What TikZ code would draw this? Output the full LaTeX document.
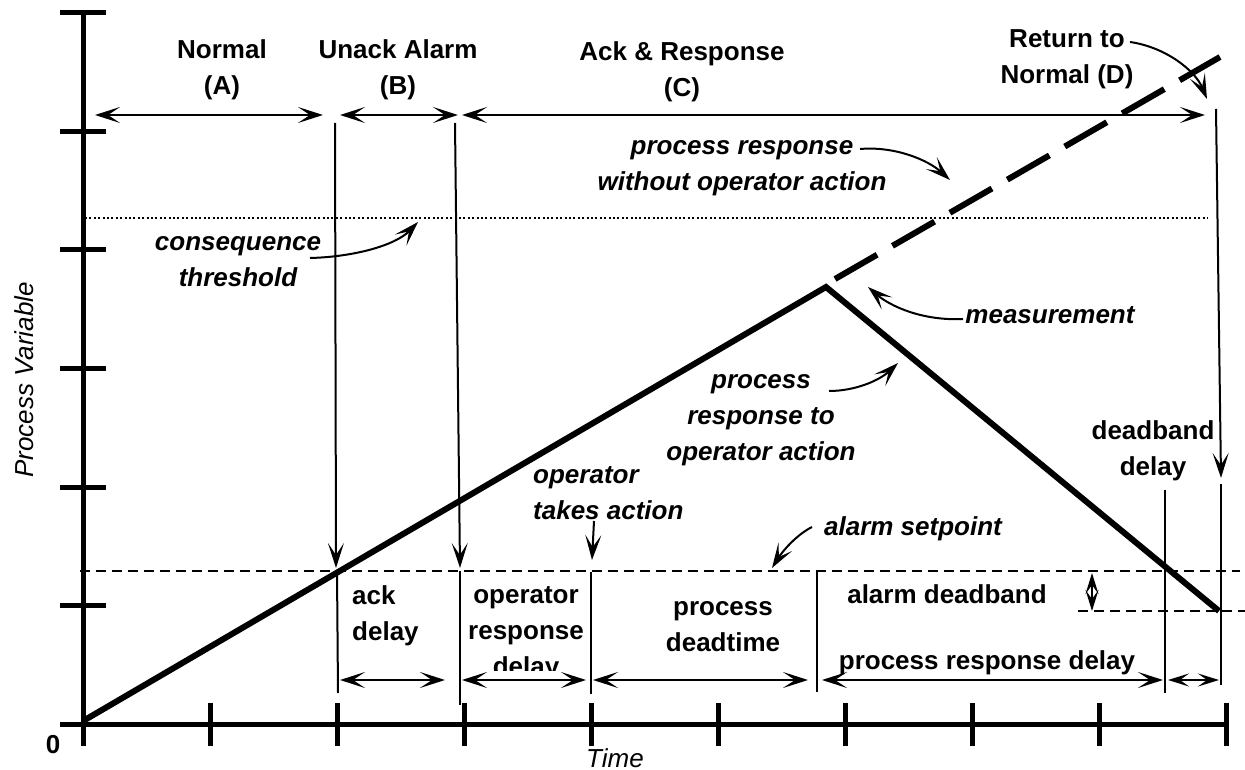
\documentclass[tikz,border=0pt]{standalone}
\usepackage{fontspec}
\setmainfont{Liberation Sans}
\usetikzlibrary{arrows.meta}

\begin{document}
\begin{tikzpicture}[x=1pt,y=-1pt,
  axis/.style={line width=5pt},
  pvline/.style={line width=6pt, miter limit=20},
  pvdash/.style={line width=6pt, dash pattern=on 48.6pt off 17.7pt},
  thinline/.style={line width=2pt},
  dotline/.style={line width=2pt, dash pattern=on 2pt off 2.4pt},
  setline/.style={line width=1.8pt, dash pattern=on 10pt off 6pt},
  head/.tip={Stealth[length=25pt,width=16pt,inset=12pt]},
  smallhead/.tip={Stealth[length=21pt,width=13pt,inset=9pt]},
  pointer/.style={thinline, -head},
  span/.style={thinline, head-head},
  smallspan/.style={thinline, smallhead-smallhead},
  lbl/.style={font=\fontsize{26}{36}\selectfont\bfseries, align=center, inner sep=0pt, anchor=base},
  note/.style={lbl, font=\fontsize{26}{36}\selectfont\bfseries\itshape},
  axlbl/.style={font=\fontsize{26}{30}\selectfont\itshape, inner sep=0pt, anchor=base},
]
\useasboundingbox (0,0) rectangle (1245,770);

% axes with ticks
\coordinate (ybot) at (83,746);
\coordinate (ytop) at (83,13);
\coordinate (xl) at (60,724);
\coordinate (xr) at (1228,724);
\draw[axis] (ybot) -- (ytop);
\draw[axis] (xl) -- (xr);
\foreach \y in {13,131.5,250,368.5,487,605.5}
  \draw[axis] (60,\y) -- (106,\y);
\foreach \k in {0,...,9}
  \draw[axis] ({83+127*\k},703) -- ({83+127*\k},746);

\node[lbl] (zero) at (53,753) {0};
\node[axlbl] (time) at (615,767) {Time};
\node[axlbl, rotate=90] (pv) at (33,380) {Process Variable};

% consequence threshold, alarm setpoint and deadband
\coordinate (cthL) at (85,218);
\coordinate (cthR) at (1208,218);
\draw[dotline] (cthL) -- (cthR);
\coordinate (spL) at (80,571);
\coordinate (spR) at (1240,571);
\draw[setline] (spL) -- (spR);
\coordinate (dbL) at (1078,611);
\coordinate (dbR) at (1245,611);
\draw[setline] (dbL) -- (dbR);

% process variable trajectory
\coordinate (pvstart) at (83,721);
\coordinate (peak) at (826,287);
\coordinate (pvend) at (1219,611);
\draw[pvline] (pvstart) -- (peak) -- (pvend);
\coordinate (freeA) at (835,279);
\coordinate (freeB) at (1220,57);
\draw[pvdash] (freeA) -- (freeB);

% phase markers
\coordinate (m1t) at (335,123);  \coordinate (m1a) at (336,568);
\coordinate (m1b) at (337,571);  \coordinate (m1c) at (338,693);
\draw[pointer] (m1t) -- (m1a);
\draw[thinline] (m1b) -- (m1c);
\coordinate (m2t) at (455,123);  \coordinate (m2a) at (460,568);
\coordinate (m2b) at (460,571);  \coordinate (m2c) at (460,705);
\draw[pointer] (m2t) -- (m2a);
\draw[thinline] (m2b) -- (m2c);
\coordinate (m3b) at (591,572);  \coordinate (m3c) at (591,694);
\draw[thinline] (m3b) -- (m3c);
\coordinate (m4b) at (817,572);  \coordinate (m4c) at (817,692);
\draw[thinline] (m4b) -- (m4c);
\coordinate (m5b) at (1165,490); \coordinate (m5c) at (1165,693);
\draw[thinline] (m5b) -- (m5c);
\coordinate (m6t) at (1216,109); \coordinate (m6a) at (1221,478);
\coordinate (m6b) at (1221,484); \coordinate (m6c) at (1221,685);
\draw[pointer] (m6t) -- (m6a);
\draw[thinline] (m6b) -- (m6c);

% phase spans
\coordinate (pA1) at (95,115);  \coordinate (pA2) at (323,115);
\coordinate (pB1) at (340,115); \coordinate (pB2) at (458,115);
\coordinate (pC1) at (462,115); \coordinate (pC2) at (1205,115);
\draw[span] (pA1) -- (pA2);
\draw[span] (pB1) -- (pB2);
\draw[span] (pC1) -- (pC2);

% delay spans
\coordinate (d1a) at (340,680); \coordinate (d1b) at (445,680);
\coordinate (d2a) at (462,680); \coordinate (d2b) at (586,680);
\coordinate (d3a) at (593,680); \coordinate (d3b) at (808,680);
\coordinate (d4a) at (822,680); \coordinate (d4b) at (1163,680);
\coordinate (d5a) at (1168,680); \coordinate (d5b) at (1219,680);
\draw[span] (d1a) -- (d1b);
\draw[span] (d2a) -- (d2b);
\draw[span] (d3a) -- (d3b);
\draw[span] (d4a) -- (d4b);
\draw[smallspan] (d5a) -- (d5b);
\coordinate (db1) at (1092,573); \coordinate (db2) at (1092,611);
\draw[smallspan] (db1) -- (db2);

% phase labels (anchored at the baseline of the last line)
\node[lbl] (normalA) at (222,94.5) {Normal\\(A)};
\node[lbl] (unackB) at (398,94.5) {Unack Alarm\\(B)};
\node[lbl] (ackC) at (682,96.5) {Ack \& Response\\(C)};
\node[lbl] (retD) at (1067,83.5) {Return to\\Normal (D)};

% delay labels
\node[lbl, align=left, anchor=base west] (ackd) at (352,640) {ack\\delay};
\begin{scope}
  \clip (462,560) rectangle (590,670);
  \node[lbl] (oprd) at (526,675) {operator\\response\\delay};
\end{scope}
\node[lbl] (pdt) at (723,651) {process\\deadtime};
\node[lbl] (adb) at (947,603) {alarm deadband};
\node[lbl] (prd) at (987,669) {process response delay};
\node[lbl] (dbd) at (1153,475) {deadband\\delay};

% annotations
\node[note] (cons) at (238,287) {consequence\\threshold};
\node[note] (norsp) at (742,191) {process response\\without operator action};
\node[note] (meas) at (1050,323) {measurement};
\node[note] (oprsp) at (761,460) {process\\response to\\operator action};
\node[note, align=left, anchor=base west] (takes) at (533,519) {operator\\takes action};
\node[note] (asp) at (913,535) {alarm setpoint};

\coordinate (c1a) at (310,258); \coordinate (c1b) at (418,222);
\draw[pointer] (c1a) .. controls (352,257) and (395,246) .. (c1b);
\coordinate (c2a) at (860,149); \coordinate (c2b) at (950,180);
\draw[pointer] (c2a) .. controls (895,146) and (928,160) .. (c2b);
\coordinate (c3a) at (1130,42); \coordinate (c3b) at (1207,99);
\draw[pointer] (c3a) .. controls (1165,47) and (1195,70) .. (c3b);
\coordinate (c4a) at (963,319); \coordinate (c4b) at (868,287);
\draw[pointer] (c4a) .. controls (922,321) and (890,306) .. (c4b);
\coordinate (c5a) at (829,391); \coordinate (c5b) at (898,363);
\draw[pointer] (c5a) .. controls (856,391) and (880,380) .. (c5b);
\coordinate (c6a) at (812,527); \coordinate (c6b) at (772,568);
\draw[pointer] (c6a) .. controls (796,535) and (782,552) .. (c6b);
\coordinate (c7a) at (594,521); \coordinate (c7b) at (592,560);
\draw[pointer] (c7a) -- (c7b);
\end{tikzpicture}
\end{document}
